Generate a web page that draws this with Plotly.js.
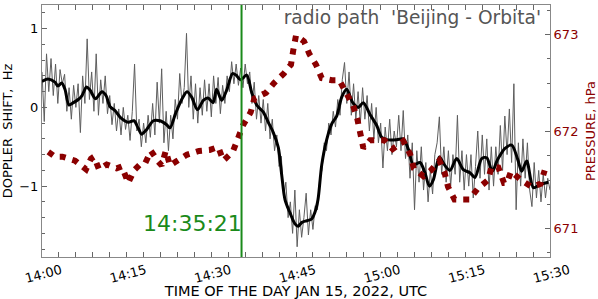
<!DOCTYPE html>
<html>
<head>
<meta charset="utf-8">
<script src="https://cdn.plot.ly/plotly-3.0.1.min.js"></script>
<style>html,body{margin:0;padding:0;background:#fff;}#chart{width:598px;height:299px;}</style>
</head>
<body>
<div id="chart"></div>
<script>
// ---------- DATA ----------
const dayStart = '2022-01-15';
const startHour = 14;
const eventTime = '2022-01-15 14:35:21';
const eventLabel = '14:35:21';
const chartTitle = "radio path\u00a0 'Beijing - Orbita'";

// raw Doppler shift (Hz), one sample every 24 s starting 14:00:00
const rawStepMin = 0.4;
const dopplerRaw = [
  0.45,-0.18,0.68,0.20,0.62,0.15,0.55,0.05,0.48,0.30,
  0.42,-0.05,0.25,-0.15,0.28,0.00,0.30,-0.32,0.40,0.05,
  0.87,0.10,0.45,-0.05,0.68,-0.10,0.35,0.05,0.40,-0.08,
  0.15,-0.22,0.05,-0.30,-0.02,-0.35,0.00,-0.28,-0.10,-0.42,
  -0.05,0.55,-0.30,-0.15,-0.50,-0.20,-0.45,-0.10,-0.38,0.05,
  -0.35,0.32,-0.20,0.49,-0.45,-0.05,-0.55,-0.10,-0.40,0.10,
  -0.15,0.43,0.05,0.25,0.94,0.00,0.40,-0.15,0.30,-0.20,
  0.25,-0.10,0.35,-0.05,0.30,-0.12,0.40,0.05,0.38,-0.08,
  0.28,0.05,0.40,0.20,0.58,0.30,0.55,0.28,0.50,0.25,
  0.55,0.30,0.45,0.05,0.32,-0.15,0.15,-0.20,0.10,-0.30,
  0.05,-0.40,-0.15,-0.55,-0.35,-0.75,-0.62,-1.15,-0.95,-1.40,
  -1.20,-1.60,-1.05,-1.77,-1.30,-1.65,-1.40,-1.09,-1.62,-1.30,
  -1.55,-1.25,-1.30,-0.90,-0.80,-0.45,-0.55,-0.20,-0.35,-0.05,
  -0.25,0.10,-0.10,0.35,0.57,0.05,0.45,-0.10,0.30,-0.15,
  0.20,-0.20,0.25,-0.15,0.15,-0.30,0.05,-0.40,0.00,-0.45,
  -0.20,-0.77,-0.25,-0.55,-0.15,-0.60,-0.30,-0.50,-0.10,-0.55,
  -0.04,-0.65,-0.35,-0.90,-0.45,-1.30,-0.55,-0.95,-0.50,-1.05,
  -0.70,-1.20,-0.80,-1.10,-0.60,-0.45,-0.12,-0.85,-0.50,-0.95,
  -0.55,-1.00,-0.60,-0.85,-0.10,-0.95,-0.55,-1.05,-0.60,-1.00,
  -0.60,-1.15,-0.75,-0.30,-0.90,-0.35,-0.85,-0.40,-1.05,-0.50,
  -1.00,-0.50,-0.85,-0.23,-0.80,-0.11,-0.60,-0.02,-0.70,0.30,
  -1.30,-0.45,-1.00,-0.40,-0.90,-0.45,-1.05,-1.26,-0.70,-1.15,
  -0.80,-1.20,-0.85,-1.15,-0.90,-1.05
];

// smoothed Doppler shift: minutes after 14:00, Hz
const smoothMin = [0,1.06,2.30,2.83,3.49,4.07,4.78,5.55,6.43,7.09,
  7.88,8.50,9.48,10.63,11.34,12.05,12.93,13.91,15.29,16.30,
  17.01,17.66,18.55,19.72,20.91,22.09,22.68,23.65,24.75,25.69,
  26.52,27.55,28.58,29.41,30.30,30.92,31.84,32.72,33.75,34.37,
  35.17,36.27,37.15,38.04,39.21,40.09,40.98,41.87,42.47,43.05,
  43.94,44.82,45.36,46.06,46.90,47.75,48.37,48.90,49.56,50.44,
  51.33,52.21,53.10,53.98,55.05,56.04,56.93,58.11,59.30,60.18,
  61.07,62.84,64.01,64.90,65.78,66.97,67.85,68.62,69.33,70.39,
  71.40,72.28,73.47,74.64,75.83,76.71,77.90,78.79,79.78,80.74,
  82.03,83.22,84.28,84.99,85.87,87.05,88.23,89.70];
const dopplerSmooth = [0.33,0.36,0.32,0.27,0.31,0.23,0.03,0.06,0.10,0.15,
  0.26,0.22,0.11,0.20,0.15,0.01,-0.04,-0.13,-0.19,-0.17,
  -0.26,-0.34,-0.28,-0.17,-0.17,-0.22,-0.26,-0.08,0.10,0.20,
  0.13,-0.03,0.09,0.12,0.06,0.23,0.09,0.22,0.43,0.41,
  0.35,0.41,0.19,0.03,-0.06,-0.19,-0.32,-0.51,-0.86,-1.17,
  -1.34,-1.48,-1.51,-1.46,-1.44,-1.42,-1.33,-1.17,-0.73,-0.41,
  -0.21,-0.11,0.13,0.23,0.06,0.00,0.06,-0.09,-0.23,-0.38,
  -0.41,-0.41,-0.40,-0.53,-0.73,-0.70,-0.83,-1.00,-0.92,-0.63,
  -0.74,-0.80,-0.65,-0.79,-0.83,-0.89,-0.65,-0.64,-0.81,-0.66,
  -0.52,-0.48,-0.66,-0.81,-0.68,-1.02,-0.98,-0.95];

// pressure: minutes after 14:00, hPa
const pressureMin = [1.12,2.30,3.60,5.85,7.80,8.68,9.21,10.10,11.46,13.23,
  14.12,15.29,16.30,17.36,18.25,19.31,20.60,21.21,21.92,22.68,
  23.74,25.64,27.81,29.70,31.23,32.12,33.79,34.78,35.66,36.98,
  37.61,39.69,41.10,42.87,44.11,44.52,45.00,46.42,47.36,48.54,
  49.56,51.33,52.67,53.86,55.10,55.86,56.47,56.93,58.11,60.68,
  62.13,64.01,65.20,65.87,67.55,68.92,70.39,71.31,71.93,73.08,
  75.70,77.19,79.02,79.67,80.84,81.85,82.38,83.09,84.86,86.76,
  88.32,89.06];
const pressure = [671.79,671.74,671.74,671.70,671.61,671.72,671.74,671.61,671.66,671.62,
  671.64,671.47,671.60,671.66,671.67,671.80,671.69,671.65,671.80,671.65,
  671.69,671.76,671.80,671.81,671.84,671.70,671.79,671.93,672.07,672.20,
  672.34,672.40,672.50,672.60,672.69,672.84,672.99,672.93,672.80,672.69,
  672.55,672.53,672.53,672.40,672.27,672.13,671.98,671.83,671.91,671.91,
  671.82,671.90,671.77,671.62,671.54,671.60,671.70,671.58,671.43,671.30,
  671.30,671.41,671.50,671.64,671.63,671.47,671.47,671.59,671.50,671.43,
  671.46,671.60];

const xTitle = 'TIME OF THE DAY JAN 15, 2022, UTC';
const yTitle = 'DOPPLER\u00a0 SHIFT,\u00a0 Hz';
const y2Title = 'PRESSURE, hPa';

// ---------- helpers ----------
function pad(n, w){ let s = String(n); while (s.length < w) s = '0' + s; return s; }
function minToDate(m){
  const totalMs = Math.round(m * 60000);
  const h = startHour + Math.floor(totalMs / 3600000);
  const mi = Math.floor((totalMs % 3600000) / 60000);
  const s = Math.floor((totalMs % 60000) / 1000);
  const ms = totalMs % 1000;
  return dayStart + ' ' + pad(h,2) + ':' + pad(mi,2) + ':' + pad(s,2) + '.' + pad(ms,3);
}
const rawX = dopplerRaw.map((_, i) => minToDate(i * rawStepMin));

const darkred = '#8b0000';
const green = '#1a8a1a';
const traces = [
  {x: rawX, y: dopplerRaw, type: 'scatter', mode: 'lines',
   line: {color: '#5e5e5e', width: 1}, hoverinfo: 'skip'},
  {x: smoothMin.map(minToDate), y: dopplerSmooth, type: 'scatter', mode: 'lines',
   line: {color: '#000', width: 3, shape: 'spline', smoothing: 0.8}},
  {x: pressureMin.map(minToDate), y: pressure, type: 'scatter', mode: 'lines', yaxis: 'y2',
   line: {color: darkred, width: 6, dash: '6px,7px'}}
];

const layout = {
  width: 598, height: 299,
  margin: {l: 42, r: 48, t: 5, b: 42},
  paper_bgcolor: '#fff', plot_bgcolor: '#fff',
  font: {family: 'DejaVu Sans', size: 13, color: '#000'},
  showlegend: false,
  title: {text: chartTitle, font: {size: 18.6, color: '#555'}, x: 541/598, xref: 'container', xanchor: 'right',
          y: 1 - 17/299, yref: 'container', yanchor: 'middle'},
  xaxis: {type: 'date', range: [minToDate(0), minToDate(90)], tick0: minToDate(0), dtick: 900000,
          tickformat: '%H:%M', tickangle: -15, ticklabelshift: 19, ticks: 'inside', ticklen: 5, tickcolor: '#666',
          showline: true, linecolor: '#888', linewidth: 1, mirror: 'allticks', showgrid: false, zeroline: false,
          minor: {dtick: 180000, tick0: minToDate(0), ticks: 'inside', ticklen: 3, tickcolor: '#666', showgrid: false},
          tickfont: {size: 13}, automargin: false,
          title: {text: xTitle, font: {size: 14.5}, standoff: 2}},
  yaxis: {range: [-1.9, 1.3], tick0: 0, dtick: 1, ticks: 'inside', ticklen: 5, tickcolor: '#666',
          showline: true, linecolor: '#888', linewidth: 1, mirror: true, showgrid: false, zeroline: false,
          minor: {dtick: 0.2, tick0: 0, ticks: 'inside', ticklen: 3, tickcolor: '#666', showgrid: false},
          tickfont: {size: 13}, automargin: false,
          title: {text: yTitle, font: {size: 13}, standoff: 4}},
  yaxis2: {overlaying: 'y', side: 'right', range: [670.706, 673.305], tick0: 671, dtick: 1,
          ticks: 'inside', ticklen: 5, tickcolor: '#666',
          showline: true, linecolor: '#888', linewidth: 1, showgrid: false, zeroline: false,
          minor: {dtick: 0.25, tick0: 671, ticks: 'inside', ticklen: 3, tickcolor: '#666', showgrid: false},
          tickfont: {size: 13, color: darkred}, automargin: false,
          title: {text: y2Title, font: {size: 13, color: darkred}, standoff: 8}},
  shapes: [{type: 'line', xref: 'x', yref: 'paper', x0: eventTime, x1: eventTime, y0: 0, y1: 1,
            line: {color: green, width: 2}}],
  annotations: [{text: eventLabel, xref: 'x', yref: 'y', x: eventTime, y: -1.47, xanchor: 'right', yanchor: 'middle',
                 xshift: 2, showarrow: false, font: {size: 22, color: green}}]
};

Plotly.newPlot('chart', traces, layout, {displayModeBar: false, staticPlot: true});
</script>
</body>
</html>
